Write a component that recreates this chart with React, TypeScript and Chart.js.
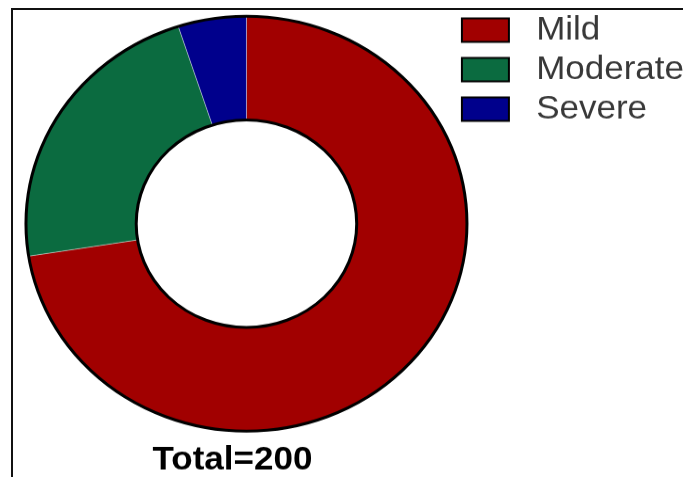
import React, { useEffect, useRef } from "react";
import { Chart, registerables } from "chart.js";

Chart.register(...registerables);

// ---- data ----
const categories = ["Mild", "Moderate", "Severe"];
const counts = [145, 45, 10];
const sliceColors = ["#A10000", "#0B6B40", "#00008C"];
const totalLabel = `Total=${counts.reduce((a, b) => a + b, 0)}`;

// ---- geometry ----
const CANVAS_W = 700;
const CSS_H = 477;
const SCALE_Y = 0.94;
const BUF_H = Math.round(CSS_H / SCALE_Y);
const FONT = "Arial, 'Liberation Sans', Helvetica, sans-serif";

const ringOutline = {
  id: "ringOutline",
  afterDatasetsDraw(chart: any) {
    const arc = chart.getDatasetMeta(0).data[0];
    if (!arc) return;
    const { x, y, outerRadius, innerRadius } = arc.getProps(
      ["x", "y", "outerRadius", "innerRadius"],
      true
    );
    const ctx = chart.ctx;
    ctx.save();
    ctx.strokeStyle = "#000";
    ctx.lineWidth = 3;
    ctx.beginPath();
    ctx.arc(x, y, outerRadius, 0, Math.PI * 2);
    ctx.stroke();
    ctx.beginPath();
    ctx.arc(x, y, innerRadius, 0, Math.PI * 2);
    ctx.stroke();
    ctx.restore();
  },
};

const totalText = {
  id: "totalText",
  afterDraw(chart: any) {
    const arc = chart.getDatasetMeta(0).data[0];
    if (!arc) return;
    const ctx = chart.ctx;
    ctx.save();
    ctx.font = `bold 35px ${FONT}`;
    ctx.fillStyle = "#000";
    ctx.textAlign = "center";
    ctx.textBaseline = "alphabetic";
    ctx.fillText(totalLabel, arc.x - 14, arc.y + arc.outerRadius + 41);
    ctx.restore();
  },
};

export default function App() {
  const ref = useRef<HTMLCanvasElement | null>(null);

  useEffect(() => {
    const canvas = ref.current;
    if (!canvas) return;
    const baseGen = (Chart as any).overrides.doughnut.plugins.legend.labels
      .generateLabels;
    const chart = new Chart(canvas, {
      type: "doughnut",
      data: {
        labels: categories,
        datasets: [
          {
            data: counts,
            backgroundColor: sliceColors,
            borderColor: "rgba(255,255,255,0.35)",
            borderWidth: 1,
            cutout: "50%",
            radius: 220.5,
            clip: false,
          } as any,
        ],
      },
      options: {
        responsive: false,
        animation: false,
        devicePixelRatio: 1,
        layout: { padding: { left: 38, top: 7.5, right: 6, bottom: 39 } },
        plugins: {
          legend: {
            position: "right",
            align: "start",
            labels: {
              boxWidth: 47,
              boxHeight: 25,
              padding: 7,
              color: "#383838",
              font: { size: 35, family: FONT },
              generateLabels(c: any) {
                return baseGen(c).map((item: any) => ({
                  ...item,
                  text: " " + item.text,
                  lineWidth: 2,
                  strokeStyle: "#000",
                }));
              },
            },
          },
          tooltip: { enabled: false },
        },
      } as any,
      plugins: [ringOutline, totalText],
    });
    return () => chart.destroy();
  }, []);

  return (
    <div
      style={{
        position: "fixed",
        left: 0,
        top: 0,
        width: 683,
        height: 477,
        overflow: "hidden",
        background: "#fff",
      }}
    >
      <canvas
        ref={ref}
        width={CANVAS_W}
        height={BUF_H}
        style={{
          position: "absolute",
          left: 0,
          top: 0,
          width: `${CANVAS_W}px`,
          height: `${CSS_H}px`,
        }}
      />
      <div
        style={{
          position: "absolute",
          left: 11,
          top: 8,
          width: 700,
          height: 500,
          borderTop: "2px solid #111",
          borderLeft: "2px solid #111",
          pointerEvents: "none",
        }}
      />
    </div>
  );
}
